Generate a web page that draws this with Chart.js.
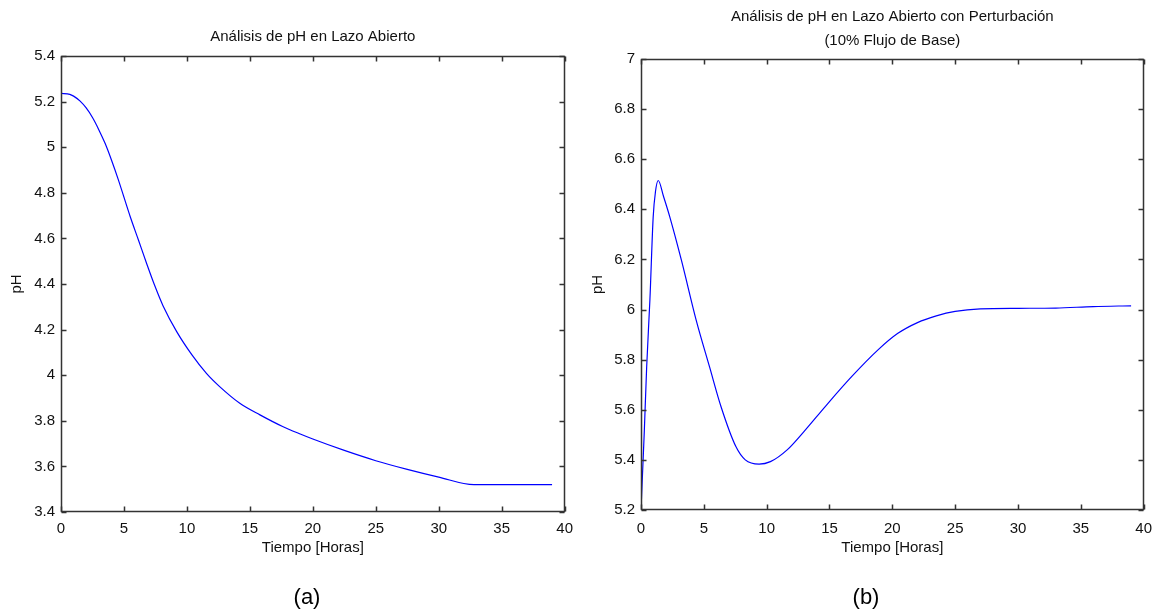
<!DOCTYPE html>
<html>
<head>
<meta charset="utf-8">
<script src="https://cdn.jsdelivr.net/npm/chart.js@4/dist/chart.umd.min.js"></script>
<style>
  html, body { margin: 0; padding: 0; background: #fff; }
  #wrap { position: relative; width: 1162px; height: 611px; }
  canvas { position: absolute; top: 0; }
  #chartA { left: 0; }
  #chartB { left: 581px; }
  .tag {
    position: absolute; top: 597px;
    transform: translate(-50%, -50%);
    font: 22px 'Liberation Sans', Arial, sans-serif; color: #000;
    line-height: 1;
  }
</style>
</head>
<body>
<div id="wrap">
  <canvas id="chartA" width="581" height="611"></canvas>
  <canvas id="chartB" width="581" height="611"></canvas>
  <div class="tag" style="left:307px">(a)</div>
  <div class="tag" style="left:866px">(b)</div>
</div>
<script>
// (a) pH en lazo abierto
const timeA = [0, 0.7, 1, 1.5, 2, 2.5, 3, 3.5, 4, 4.55, 5.5, 6.15, 6.8, 7.45, 8.1, 9.2, 10.4, 11.55, 12.6, 14.2, 15.8, 17.6, 19, 20, 22.5, 25, 27.5, 30, 32.8, 39];
const phA = [5.236, 5.232, 5.224, 5.203, 5.172, 5.13, 5.077, 5.017, 4.945, 4.858, 4.695, 4.593, 4.49, 4.392, 4.305, 4.19, 4.089, 4.008, 3.95, 3.877, 3.826, 3.775, 3.742, 3.72, 3.67, 3.625, 3.587, 3.553, 3.52, 3.52];

// (b) pH en lazo abierto con perturbación
const timeB = [0, 0.1, 0.26, 0.45, 0.71, 0.97, 1.15, 1.37, 1.8, 2.29, 3.21, 4.39, 5.45, 6.37, 7.55, 8.3, 9.4, 10.3, 11.63, 13, 14.66, 16.76, 18.86, 20.44, 22, 23.5, 25, 27, 30, 33, 36, 39];
const phB = [5.2, 5.32, 5.51, 5.77, 6.04, 6.37, 6.47, 6.515, 6.45, 6.37, 6.198, 5.958, 5.772, 5.612, 5.453, 5.40, 5.383, 5.393, 5.44, 5.515, 5.613, 5.732, 5.839, 5.905, 5.948, 5.975, 5.993, 6.003, 6.005, 6.006, 6.012, 6.015];

const xTicks = [0, 5, 10, 15, 20, 25, 30, 35, 40];
const yTicksA = [3.4, 3.6, 3.8, 4, 4.2, 4.4, 4.6, 4.8, 5, 5.2, 5.4];
const yTicksB = [5.2, 5.4, 5.6, 5.8, 6, 6.2, 6.4, 6.6, 6.8, 7];

const FS = 15;
Chart.defaults.font.family = "'Liberation Sans', Arial, Helvetica, sans-serif";
Chart.defaults.color = '#111';

// caja con marcas hacia adentro (estilo MATLAB)
const boxTicks = {
  id: 'boxTicks',
  afterDatasetsDraw(chart) {
    const { ctx, chartArea: a, scales: { x, y } } = chart;
    const L = Math.round(a.left) + 0.5, R = Math.round(a.right) - 0.5;
    const T = Math.round(a.top) + 0.5, B = Math.round(a.bottom) - 0.5;
    ctx.save();
    ctx.strokeStyle = '#333';
    ctx.lineWidth = 1.5;
    ctx.beginPath();
    x.ticks.forEach(t => {
      const px = Math.round(x.getPixelForValue(t.value)) + 0.5;
      ctx.moveTo(px, B); ctx.lineTo(px, B - 5);
      ctx.moveTo(px, T); ctx.lineTo(px, T + 5);
    });
    y.ticks.forEach(t => {
      const py = Math.round(y.getPixelForValue(t.value)) + 0.5;
      ctx.moveTo(L, py); ctx.lineTo(L + 5, py);
      ctx.moveTo(R, py); ctx.lineTo(R - 5, py);
    });
    ctx.stroke();
    ctx.strokeRect(L, T, R - L, B - T);
    ctx.restore();
  }
};

function makeChart(id, times, values, yTicks, cfg) {
  const ctx = document.getElementById(id).getContext('2d');
  return new Chart(ctx, {
    type: 'line',
    data: {
      datasets: [{
        data: times.map((t, i) => ({ x: t, y: values[i] })),
        borderColor: '#0000ff',
        borderWidth: 1.2,
        pointRadius: 0,
        cubicInterpolationMode: 'monotone',
        fill: false
      }]
    },
    options: {
      responsive: false,
      animation: false,
      devicePixelRatio: 1,
      layout: { padding: { left: 0, right: cfg.padRight, top: 0, bottom: cfg.padBottom } },
      scales: {
        x: {
          type: 'linear',
          min: 0, max: 40,
          grid: { display: false, drawTicks: false },
          border: { display: false },
          afterBuildTicks: s => { s.ticks = xTicks.map(v => ({ value: v })); },
          afterFit: s => { s.height = cfg.xHeight; },
          ticks: {
            padding: cfg.xTickPad,
            maxRotation: 0,
            autoSkip: false,
            font: { size: FS },
            callback: v => String(v)
          },
          title: {
            display: true,
            text: 'Tiempo [Horas]',
            font: { size: FS },
            padding: { top: 0, bottom: 7 }
          }
        },
        y: {
          type: 'linear',
          min: yTicks[0], max: yTicks[yTicks.length - 1],
          grid: { display: false, drawTicks: false },
          border: { display: false },
          afterBuildTicks: s => { s.ticks = yTicks.map(v => ({ value: v })); },
          afterFit: s => { s.width = cfg.yWidth; },
          ticks: {
            padding: 6,
            autoSkip: false,
            font: { size: FS },
            callback: v => String(+Number(v).toFixed(1))
          },
          title: {
            display: true,
            text: 'pH',
            font: { size: FS },
            padding: { top: 8, bottom: 0 }
          }
        }
      },
      plugins: {
        legend: { display: false },
        tooltip: { enabled: false },
        title: {
          display: true,
          fullSize: false,
          text: cfg.title,
          font: { size: FS, weight: 'normal', lineHeight: cfg.titleLH },
          padding: cfg.titlePad
        }
      }
    },
    plugins: [boxTicks]
  });
}

makeChart('chartA', timeA, phA, yTicksA, {
  title: 'Análisis de pH en Lazo Abierto',
  titleLH: 1.2,
  titlePad: { top: 28, bottom: 10 },
  padRight: 16,
  padBottom: 47,
  yWidth: 61,
  xHeight: 52,
  xTickPad: 8
});

makeChart('chartB', timeB, phB, yTicksB, {
  title: ['Análisis de pH en Lazo Abierto con Perturbación', '(10% Flujo de Base)'],
  titleLH: 1.6,
  titlePad: { top: 5, bottom: 6 },
  padRight: 14,
  padBottom: 47,
  yWidth: 60,
  xHeight: 54,
  xTickPad: 10
});
</script>
</body>
</html>
